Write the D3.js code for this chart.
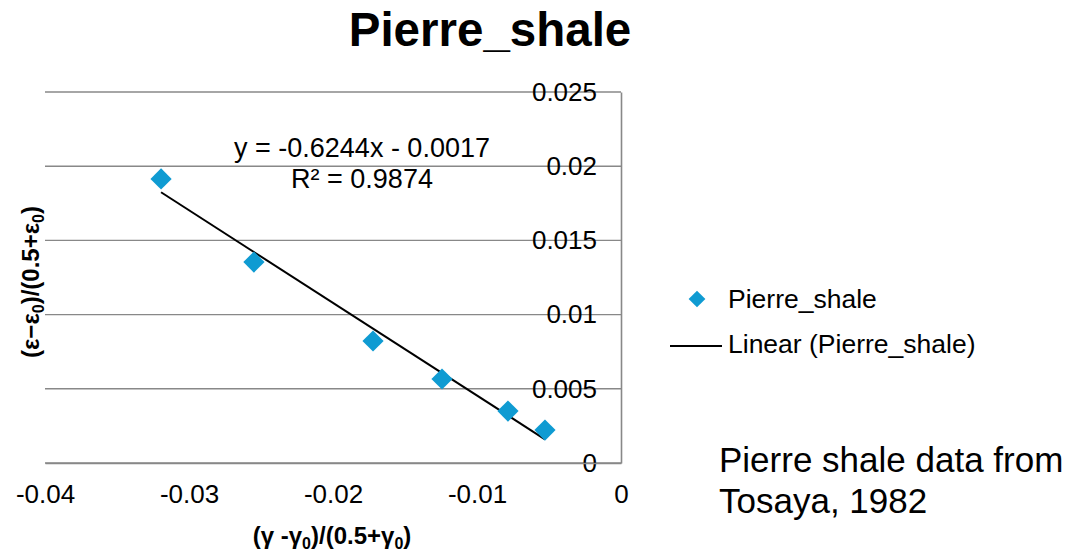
<!DOCTYPE html>
<html>
<head>
<meta charset="utf-8">
<script src="https://cdn.jsdelivr.net/npm/d3@7"></script>
<style>
  body { margin: 0; background: #fff; }
  svg { font-family: "Liberation Sans", Arial, sans-serif; }
</style>
</head>
<body>
<svg id="chart" width="1088" height="552"></svg>
<script>
// data
const xValues = [-0.03194, -0.02549, -0.01722, -0.01243, -0.00785, -0.00528];
const yValues = [0.01914, 0.01354, 0.00822, 0.00566, 0.0035, 0.00222];
const trendSlope = -0.6244;
const trendIntercept = -0.0017;
const xTicks = [-0.04, -0.03, -0.02, -0.01, 0];
const yTicks = [0, 0.005, 0.01, 0.015, 0.02, 0.025];
const xTickLabels = ['-0.04', '-0.03', '-0.02', '-0.01', '0'];
const yTickLabels = ['0', '0.005', '0.01', '0.015', '0.02', '0.025'];
const seriesName = 'Pierre_shale';

const points = xValues.map((x, i) => ({ x, y: yValues[i] }));

const svg = d3.select('#chart');
const plot = { left: 45, right: 621, top: 92, bottom: 463 };
const font = '"Liberation Sans", Arial, sans-serif';

const x = d3.scaleLinear().domain([-0.04, 0]).range([plot.left, plot.right]);
const y = d3.scaleLinear().domain([0, 0.025]).range([plot.bottom, plot.top]);

const gridColor = '#888';
const markerColor = '#0f9bd2';

// gridlines
svg.append('g')
  .selectAll('line')
  .data(yTicks)
  .enter()
  .append('line')
  .attr('x1', plot.left)
  .attr('x2', plot.right)
  .attr('y1', d => y(d))
  .attr('y2', d => y(d))
  .attr('stroke', gridColor)
  .attr('stroke-width', 1.4);

// y axis sits on the right edge (x = 0), labels drawn to its left
const yAxis = svg.append('g')
  .attr('transform', `translate(${plot.right},0)`)
  .call(d3.axisLeft(y).tickValues(yTicks).tickSize(0).tickPadding(24)
    .tickFormat((d, i) => yTickLabels[i]));
yAxis.select('.domain').attr('stroke', gridColor).attr('stroke-width', 1.6);
yAxis.selectAll('text')
  .attr('font-size', '26px')
  .attr('fill', '#000')
  .attr('font-family', font);

// x axis at y = 0
const xAxis = svg.append('g')
  .attr('transform', `translate(0,${plot.bottom})`)
  .call(d3.axisBottom(x).tickValues(xTicks).tickSize(0).tickPadding(22)
    .tickFormat((d, i) => xTickLabels[i]));
xAxis.select('.domain').attr('stroke', gridColor).attr('stroke-width', 1.6);
xAxis.selectAll('text')
  .attr('font-size', '26px')
  .attr('fill', '#000')
  .attr('font-family', font);

// trendline across the data range
const xExtent = d3.extent(xValues);
svg.append('line')
  .attr('x1', x(xExtent[0]))
  .attr('y1', y(trendSlope * xExtent[0] + trendIntercept))
  .attr('x2', x(xExtent[1]))
  .attr('y2', y(trendSlope * xExtent[1] + trendIntercept))
  .attr('stroke', '#000')
  .attr('stroke-width', 2);

// diamond markers
const diamond = d3.symbol().type(d3.symbolSquare).size(225);
svg.append('g')
  .selectAll('path')
  .data(points)
  .enter()
  .append('path')
  .attr('d', diamond)
  .attr('transform', d => `translate(${x(d.x)},${y(d.y)}) rotate(45)`)
  .attr('fill', markerColor);

// equation label
svg.append('text')
  .attr('x', 362).attr('y', 157)
  .attr('text-anchor', 'middle')
  .attr('font-size', '27px')
  .text(`y = ${trendSlope}x - ${Math.abs(trendIntercept)}`);
svg.append('text')
  .attr('x', 362).attr('y', 188)
  .attr('text-anchor', 'middle')
  .attr('font-size', '27px')
  .text('R² = 0.9874');

// title
svg.append('text')
  .attr('x', 490).attr('y', 46)
  .attr('text-anchor', 'middle')
  .attr('font-size', '47.5px')
  .attr('font-weight', 'bold')
  .text(seriesName);

// axis titles
const xTitle = svg.append('text')
  .attr('x', 332).attr('y', 544)
  .attr('text-anchor', 'middle')
  .attr('font-size', '24px')
  .attr('font-weight', 'bold');
xTitle.append('tspan').text('(γ -γ');
xTitle.append('tspan').attr('font-size', '16px').attr('dy', 5).text('0');
xTitle.append('tspan').attr('dy', -5).text(')/(0.5+γ');
xTitle.append('tspan').attr('font-size', '16px').attr('dy', 5).text('0');
xTitle.append('tspan').attr('dy', -5).text(')');

const yTitle = svg.append('text')
  .attr('transform', 'translate(39,282) rotate(-90)')
  .attr('text-anchor', 'middle')
  .attr('font-size', '24px')
  .attr('font-weight', 'bold');
yTitle.append('tspan').text('(ε−ε');
yTitle.append('tspan').attr('font-size', '16px').attr('dy', 5).text('0');
yTitle.append('tspan').attr('dy', -5).text(')/(0.5+ε');
yTitle.append('tspan').attr('font-size', '16px').attr('dy', 5).text('0');
yTitle.append('tspan').attr('dy', -5).text(')');

// legend
const legend = svg.append('g');
legend.append('path')
  .attr('d', d3.symbol().type(d3.symbolSquare).size(140))
  .attr('transform', 'translate(697,299) rotate(45)')
  .attr('fill', markerColor);
legend.append('text')
  .attr('x', 728).attr('y', 308)
  .attr('font-size', '26.5px')
  .text(seriesName);
legend.append('line')
  .attr('x1', 670).attr('x2', 722)
  .attr('y1', 346).attr('y2', 346)
  .attr('stroke', '#000').attr('stroke-width', 2);
legend.append('text')
  .attr('x', 728).attr('y', 353)
  .attr('font-size', '26.5px')
  .text(`Linear (${seriesName})`);

// source note
svg.append('text')
  .attr('x', 719).attr('y', 472)
  .attr('font-size', '35px')
  .text('Pierre shale data from');
svg.append('text')
  .attr('x', 719).attr('y', 513)
  .attr('font-size', '35px')
  .text('Tosaya, 1982');
</script>
</body>
</html>
